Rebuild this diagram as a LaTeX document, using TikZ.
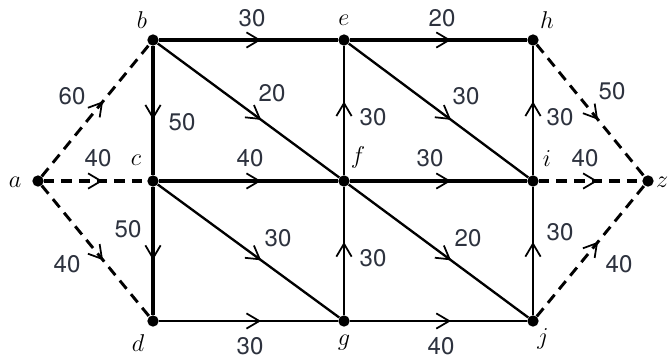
\documentclass[tikz,border=0pt]{standalone}
\usepackage{fontspec}
\newfontfamily\numfont{TeX Gyre Heros}
\usetikzlibrary{arrows.meta,decorations.markings}
\definecolor{lblgray}{RGB}{45,50,62}
\tikzset{
    vtx/.style={circle,fill=black,inner sep=0pt,minimum size=0.34cm},
    vlab/.style={inner sep=0pt,font=\fontsize{21}{24}\selectfont},
    num/.style={inner sep=0pt,text=lblgray,font=\numfont\fontsize{20.5}{24}\selectfont},
    midarrow/.style={postaction={decorate},decoration={markings,
        mark=at position 0.57 with {\arrow{Straight Barb[length=11pt,width=13pt,line width=1.5pt]}}}},
    heavy/.style={line width=3.2pt,midarrow},
    light/.style={line width=2pt,midarrow},
    dsh/.style={line width=2.5pt,dash pattern=on 9pt off 6pt,midarrow},
    dshheavy/.style={line width=3pt,dash pattern=on 9pt off 6pt,midarrow}
}
\begin{document}
\begin{tikzpicture}[x=0.03cm,y=-0.03cm]
        \useasboundingbox (0,0) rectangle (668,360);

        % vertices
        \foreach \v/\x/\y in {
            a/38/181, b/153/40, c/153/181, d/153/321,
            e/344/40, f/344/181, g/344/321,
            h/533/40, i/533/181, j/533/321, z/648/181
        }{
            \node[vtx] (\v) at (\x,\y) {};
        }

        % vertex names
        \foreach \v/\x/\y in {
            a/15/182, b/142/20, c/136/160, d/138/343,
            e/344/20, f/358/157, g/344/343,
            h/547/20, i/547/159, j/543/339
        }{
            \node[vlab] (n\v) at (\x,\y) {$\v$};
        }
        \node[vlab,anchor=west] (nz) at (656,182) {$z$};

        % edges with capacities
        \foreach \u/\v/\w/\lx/\ly/\sty in {
            a/b/60/72/96/dsh,
            a/c/40/98/158/dshheavy,
            a/d/40/67/264/dsh,
            b/e/30/252/18/heavy,
            b/c/50/182/122/heavy,
            b/f/20/272/93/light,
            c/f/40/250/158/heavy,
            c/d/50/128/229/heavy,
            c/g/30/278/238/light,
            d/g/30/250/346/light,
            e/h/20/442/18/heavy,
            e/i/30/466/96/light,
            f/e/30/373/117/light,
            f/i/30/430/158/heavy,
            f/j/20/468/238/light,
            g/f/30/373/258/light,
            g/j/40/441/346/light,
            i/h/30/560/117/light,
            i/z/40/585/158/dshheavy,
            h/z/50/612/91/dsh,
            j/i/30/560/232/light,
            j/z/40/619/264/dsh}{
            \draw[\sty] (\u) -- (\v);
            \node[num] (w\u\v) at (\lx,\ly) {\w};
        }
    \end{tikzpicture}
\end{document}
